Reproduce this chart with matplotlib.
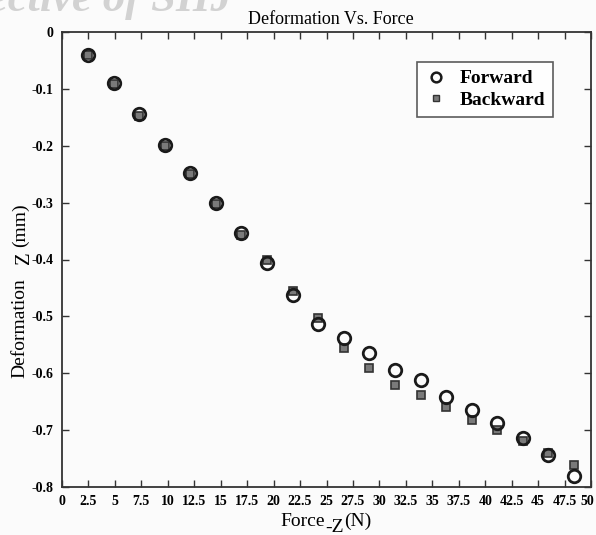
import numpy as np
import matplotlib
matplotlib.use('Agg')
import matplotlib.pyplot as plt
import matplotlib.transforms as mtransforms
from matplotlib.lines import Line2D

# values
force = [2.45, 4.87, 7.29, 9.70, 12.12, 14.54, 16.96, 19.38, 21.80, 24.21,
         26.63, 29.05, 31.47, 33.89, 36.31, 38.72, 41.14, 43.56, 45.98, 48.40]
forward = [-0.040, -0.090, -0.144, -0.199, -0.248, -0.300, -0.353, -0.406, -0.462, -0.513,
           -0.538, -0.565, -0.594, -0.611, -0.642, -0.665, -0.687, -0.714, -0.744, -0.780]
backward = [-0.040, -0.092, -0.148, -0.200, -0.250, -0.302, -0.357, -0.400, -0.455, -0.502,
            -0.556, -0.590, -0.620, -0.638, -0.660, -0.682, -0.700, -0.719, -0.741, -0.761]
xticks = np.arange(0, 50.1, 2.5)
xtick_labels = ['0', '2.5', '5', '7.5', '10', '12.5', '15', '17.5', '20', '22.5', '25',
                '27.5', '30', '32.5', '35', '37.5', '40', '42.5', '45', '47.5', '50']
yticks = [0, -0.1, -0.2, -0.3, -0.4, -0.5, -0.6, -0.7, -0.8]
ytick_labels = ['0', '-0.1', '-0.2', '-0.3', '-0.4', '-0.5', '-0.6', '-0.7', '-0.8']

plt.rcParams['font.family'] = ['Liberation Serif', 'DejaVu Serif']

fig = plt.figure(figsize=(5.96, 5.35), dpi=100)
fig.patch.set_facecolor('#fbfbfb')
ax = fig.add_axes([62/596, 1-487/535, (591-62)/596, (487-32)/535])
ax.set_facecolor('#fbfbfb')

ax.plot(force, backward, ls='none', marker='s', ms=6, mfc='#7a7a7a', mec='#333333', mew=1.2)
ax.plot(force, forward, ls='none', marker='o', ms=9, mfc='none', mec='#1a1a1a', mew=2.0)

ax.set_xlim(0, 50)
ax.set_ylim(-0.8, 0)
ax.set_xticks(xticks)
ax.set_xticklabels(xtick_labels, fontweight='bold', fontsize=10)
ax.set_yticks(yticks)
ax.set_yticklabels(ytick_labels, fontweight='bold', fontsize=10)
ax.tick_params(direction='in', top=True, right=True, length=5, width=1, color='#333333', pad=6)
for s in ax.spines.values():
    s.set_linewidth(1.3)
    s.set_color('#333333')
# nudge the last x label so it stays inside the picture
last = ax.get_xticklabels()[-1]
last.set_transform(last.get_transform() + mtransforms.ScaledTranslation(-4/100, 0, fig.dpi_scale_trans))

fig.text(331/596, 1-19/535, 'Deformation Vs. Force', ha='center', va='center', fontsize=13)

# x label pieces
fig.text(303/596, 1-521/535, 'Force', ha='center', va='center', fontsize=14)
fig.text(335/596, 1-527/535, '-Z', ha='center', va='center', fontsize=14)
fig.text(358/596, 1-521/535, '(N)', ha='center', va='center', fontsize=14)

# y label pieces
fig.text(20/596, 1-328/535, 'Deformation', ha='center', va='center', fontsize=14, rotation=90)
fig.text(24/596, 1-258/535, 'Z', ha='center', va='center', fontsize=15, rotation=90)
fig.text(20/596, 1-225/535, '(mm)', ha='center', va='center', fontsize=14, rotation=90)

# watermark cut off at the top
fig.text(-12/596, 1-11/535, 'ective of SHJ', ha='left', va='baseline', fontsize=32,
         fontstyle='italic', fontweight='bold', color='#d2d2d2')

handles = [Line2D([], [], ls='none', marker='o', ms=7, mfc='none', mec='#1a1a1a', mew=1.8),
           Line2D([], [], ls='none', marker='s', ms=5, mfc='#7a7a7a', mec='#333333', mew=1)]
leg = ax.legend(handles, ['Forward', 'Backward'], loc='upper right',
                bbox_to_anchor=((553-62)/529, 1-(62-32)/455), borderaxespad=0,
                prop={'weight': 'bold', 'size': 14}, frameon=True, fancybox=False,
                borderpad=0.4, handletextpad=0.6, handlelength=1.2, labelspacing=0.2)
leg.get_frame().set_edgecolor('#333333')
leg.get_frame().set_linewidth(1.2)
leg.get_frame().set_facecolor('white')

fig.savefig('out.png', dpi=100, facecolor=fig.get_facecolor())
